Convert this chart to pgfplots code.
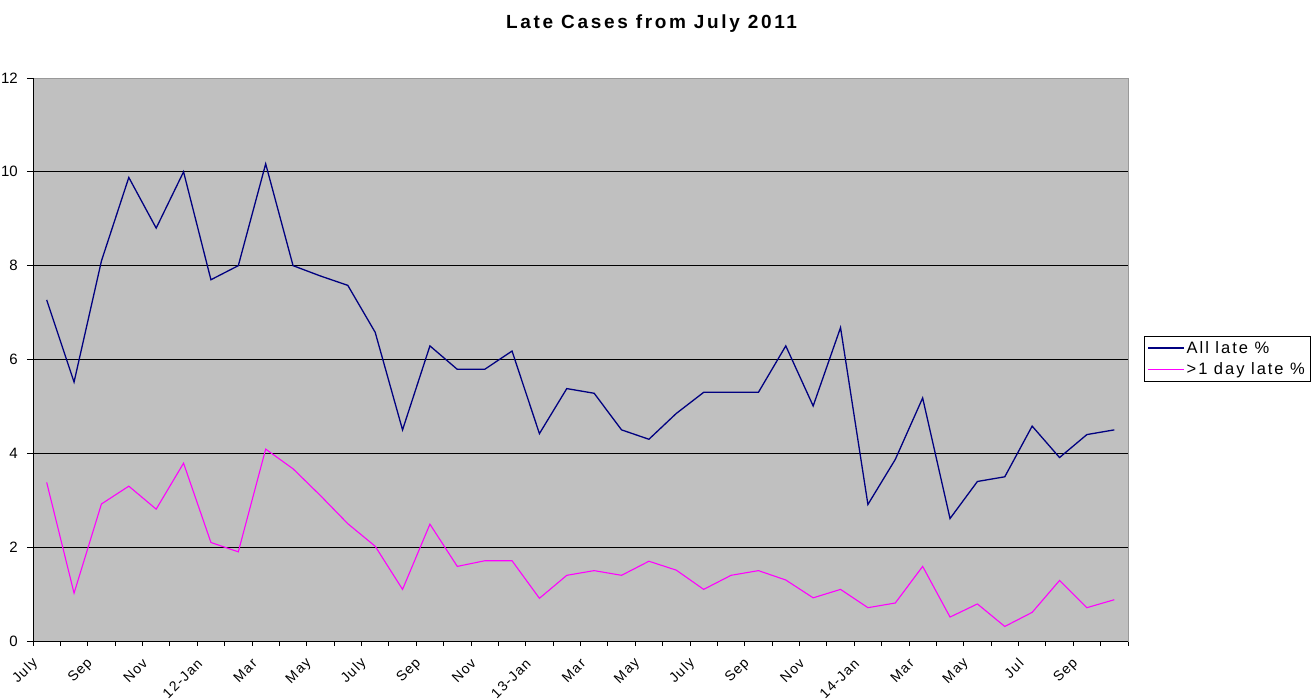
\documentclass[border=0pt]{standalone}
\usepackage{fontspec}
\setmainfont{Liberation Sans}
\usepackage{pgfplots}
\pgfplotsset{compat=1.18}
\definecolor{navyline}{RGB}{0,0,128}
\definecolor{magline}{RGB}{255,0,255}
\definecolor{plotbg}{RGB}{192,192,192}
\newcommand\tickfont{\fontsize{14bp}{16bp}\selectfont\addfontfeature{LetterSpace=9}}
\newcommand\ytickfont{\fontsize{15bp}{17bp}\selectfont}
\newcommand\legfont{\fontsize{16.5bp}{19bp}\selectfont\addfontfeature{LetterSpace=12}}
\newcommand\titlefont{\fontsize{19bp}{22bp}\selectfont\bfseries\addfontfeature{LetterSpace=14}}
\pgfplotstableread{
x all over
0 7.27 3.38
1 5.52 1.02
2 8.10 2.92
3 9.88 3.30
4 8.80 2.81
5 10.00 3.79
6 7.70 2.10
7 8.00 1.90
8 10.17 4.09
9 8.00 3.67
10 7.78 3.10
11 7.58 2.50
12 6.58 2.02
13 4.50 1.10
14 6.29 2.49
15 5.79 1.59
16 5.79 1.71
17 6.18 1.71
18 4.42 0.91
19 5.38 1.40
20 5.28 1.50
21 4.50 1.40
22 4.30 1.70
23 4.85 1.51
24 5.30 1.10
25 5.30 1.40
26 5.30 1.50
27 6.29 1.30
28 5.01 0.92
29 6.68 1.10
30 2.91 0.71
31 3.87 0.81
32 5.18 1.59
33 2.61 0.51
34 3.40 0.79
35 3.50 0.31
36 4.58 0.61
37 3.91 1.29
38 4.40 0.71
39 4.50 0.88
}\latedata
\begin{document}
\begin{tikzpicture}
\begin{axis}[
  at={(33bp,59bp)}, anchor=south west,
  scale only axis, width=1095bp, height=563bp,
  xmin=-0.5, xmax=39.5, ymin=0, ymax=12,
  xtick={0,2,...,38},
  xticklabels={July,Sep,Nov,12-Jan,Mar,May,July,Sep,Nov,13-Jan,Mar,May,July,Sep,Nov,14-Jan,Mar,May,Jul,Sep},
  minor xtick={-0.5,0.5,...,39.5},
  ytick={0,2,...,12},
  tick pos=left,
  tick align=outside,
  major tick length=6bp, minor tick length=5bp,
  every major x tick/.style={draw=none},
  tick style={black, line width=0.8bp},
  ymajorgrids, major grid style={black, line width=0.8bp},
  axis background/.style={fill=plotbg},
  axis line style={draw=black!40, line width=0.8bp},
  /pgf/number format/assume math mode=true,
  xticklabel style={xshift=-11bp, yshift=-14bp, font=\tickfont, rotate=45, anchor=east, inner sep=0pt},
  yticklabel style={font=\ytickfont, anchor=east, inner sep=0pt, xshift=-9bp},
  title={Late Cases from July 2011},
  title style={font=\titlefont, at={(axis description cs:0.565,1)}, anchor=center, yshift=48bp},
  legend style={at={(axis description cs:1.0146,0.5417)}, anchor=north west, draw=black, fill=white, line width=0.8bp, font=\legfont, inner xsep=3bp, inner ysep=3bp, row sep=4bp},
  legend cell align=left,
  legend image code/.code={\draw[#1, line width=1.3bp] (0bp,0bp) -- (36bp,0bp);},
  after end axis/.code={
    \draw[black, line width=0.9bp] (rel axis cs:0,1) -- (rel axis cs:0,0) -- (rel axis cs:1,0);
  },
]
\addplot[navyline, line width=1.3bp] table[x=x, y=all] {\latedata};
\addlegendentry{All late \%}
\addplot[magline, line width=1.1bp] table[x=x, y=over] {\latedata};
\addlegendentry{>1 day late \%}
\end{axis}
\pgfresetboundingbox
\path[use as bounding box] (0,0) rectangle (1312bp,700bp);
\end{tikzpicture}
\end{document}
